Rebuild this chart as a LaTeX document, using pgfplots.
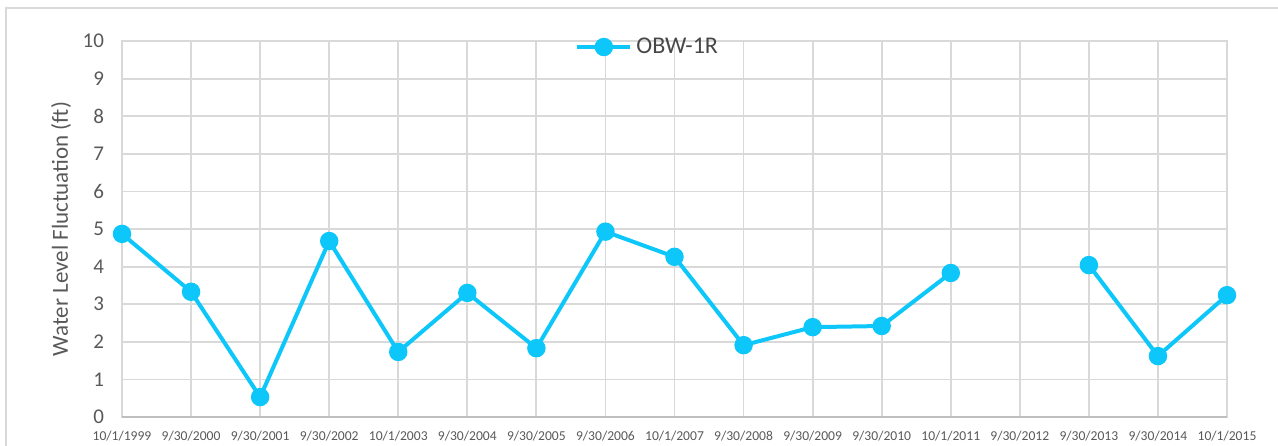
\documentclass[border=0pt]{standalone}
\usepackage{fontspec}
\setmainfont{Carlito}
\usepackage{pgfplots}
\pgfplotsset{compat=1.18}
\usepackage{pgfplotstable}
\definecolor{obw}{RGB}{13,199,250}
\definecolor{gridc}{RGB}{217,217,217}
\definecolor{axc}{RGB}{191,191,191}
\definecolor{txt}{RGB}{89,89,89}
\pgfplotstableread{
x y
0 4.87
1 3.33
2 0.53
3 4.68
4 1.73
5 3.30
6 1.83
7 4.93
8 4.26
9 1.91
10 2.39
11 2.42
12 3.83
13 nan
14 4.04
15 1.62
16 3.24
}\data
\begin{document}
\begin{tikzpicture}
\begin{axis}[
  scale only axis, width=552.5pt, height=188pt,
  xmin=0, xmax=16, ymin=0, ymax=10,
  xtick={0,...,16},
  xticklabels={10/1/1999,9/30/2000,9/30/2001,9/30/2002,10/1/2003,9/30/2004,9/30/2005,9/30/2006,10/1/2007,9/30/2008,9/30/2009,9/30/2010,10/1/2011,9/30/2012,9/30/2013,9/30/2014,10/1/2015},
  ytick={0,...,10},
  grid=major,
  major grid style={gridc, line width=0.9pt},
  axis line style={gridc, line width=0.9pt},
  tick style={draw=none},
  /pgf/number format/assume math mode=true,
  ticklabel style={txt},
  yticklabel style={font=\fontsize{10.5}{12}\selectfont, xshift=-5.5pt},
  xticklabel style={font=\fontsize{6.8}{8}\selectfont, yshift=-3.5pt},
  ylabel={Water Level Fluctuation (ft)},
  ylabel style={font=\fontsize{11.5}{13}\selectfont, text=txt, at={(rel axis cs:-0.0552,0.5)}, anchor=center},
  unbounded coords=jump,
  legend style={at={(rel axis cs:0.41,0.984)}, anchor=west, draw=none, fill=none, inner sep=0pt, font=\fontsize{12}{14}\selectfont, text=txt!80!black},
  legend image code/.code={\draw[mark repeat=2, mark phase=2] plot coordinates {(0pt,0pt) (13.2pt,0pt) (26.5pt,0pt)};},
  after end axis/.code={
    \draw[axc, line width=0.9pt] (rel axis cs:0,0) -- (rel axis cs:1,0);
    \coordinate (bl) at (rel axis cs:-0.11041,-0.07447);
    \coordinate (tr) at (rel axis cs:1.04615,1.10904);
    \coordinate (ob1) at (rel axis cs:-0.10498,-0.2);
    \coordinate (ob2) at (rel axis cs:-0.10498,1.08777);
    \coordinate (ob3) at (rel axis cs:1.2,1.08777);
  },
]
\addplot[obw, line width=2pt, mark=*, mark size=3.6pt, mark options={solid, fill=obw, draw=obw}] table[x=x, y=y] {\data};
\addlegendentry{OBW-1R}
\end{axis}
\pgfresetboundingbox
\path[use as bounding box] (bl) rectangle (tr);
\draw[gridc, line width=1pt] (ob1) -- (ob2) -- (ob3);
\end{tikzpicture}
\end{document}
